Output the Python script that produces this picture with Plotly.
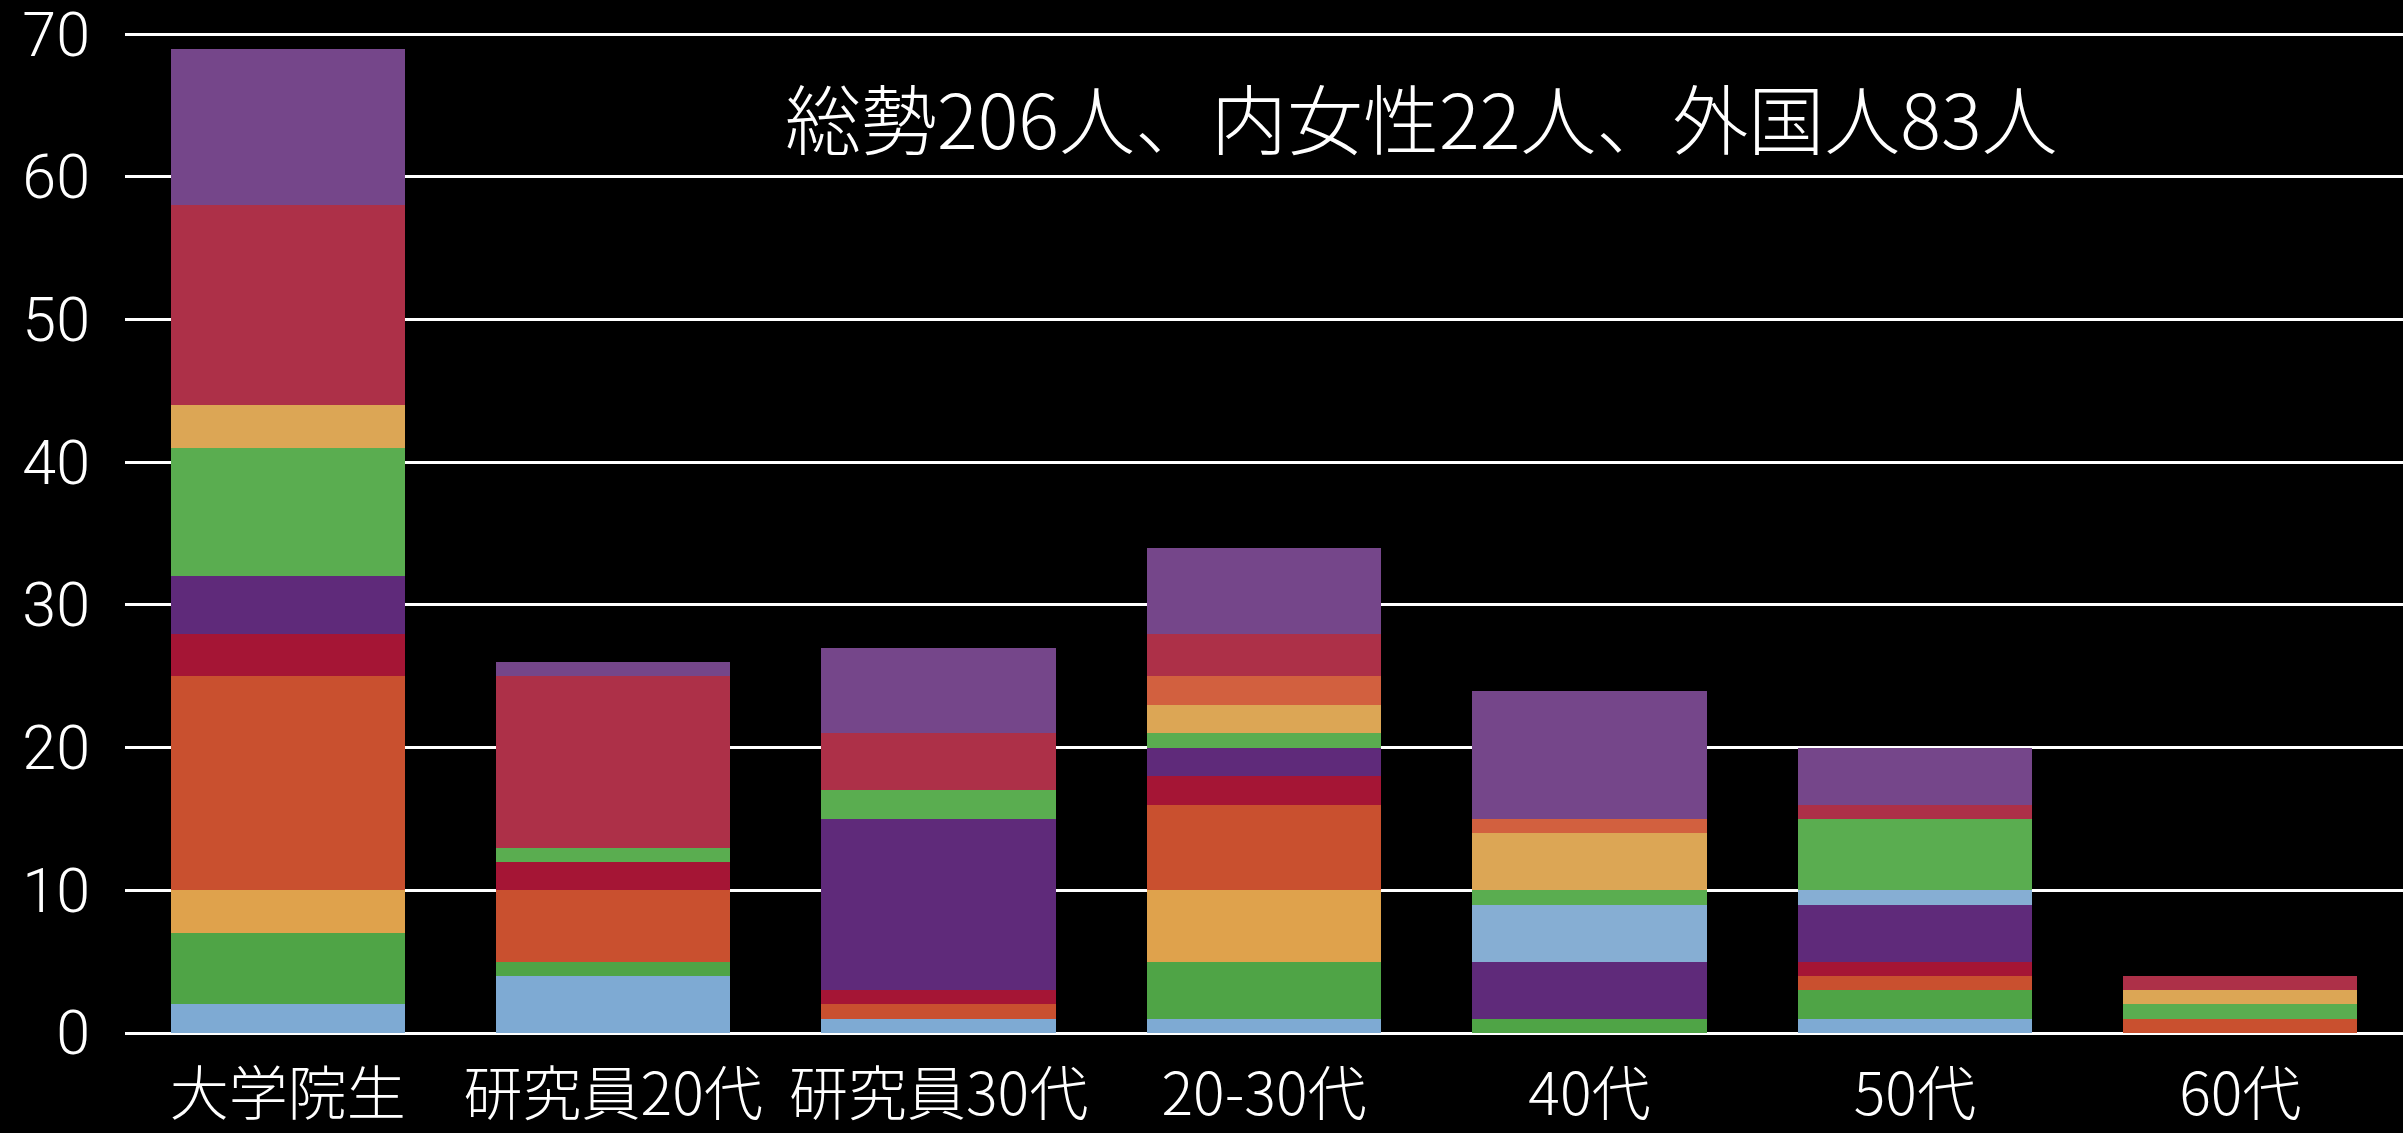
import plotly.graph_objects as go

# categories on the x axis
categories = ["大学院生", "研究員20代", "研究員30代", "20-30代", "40代", "50代", "60代"]

# stacked layers, bottom to top (values per category)
s1 = [2, 4, 1, 1, 0, 1, 0]
s2 = [5, 1, 0, 4, 1, 2, 0]
s3 = [3, 0, 0, 5, 0, 0, 0]
s4 = [15, 5, 1, 6, 0, 1, 1]
s5 = [3, 2, 1, 2, 0, 1, 0]
s6 = [4, 0, 12, 2, 4, 4, 0]
s7 = [0, 0, 0, 0, 4, 1, 0]
s8 = [9, 1, 2, 1, 1, 5, 1]
s9 = [3, 0, 0, 2, 4, 0, 1]
s10 = [0, 0, 0, 2, 1, 0, 0]
s11 = [14, 12, 4, 3, 0, 1, 1]
s12 = [11, 1, 6, 6, 9, 4, 0]

y_ticks = [0, 10, 20, 30, 40, 50, 60, 70]
note = "総勢206人、内女性22人、外国人83人"

series = [s1, s2, s3, s4, s5, s6, s7, s8, s9, s10, s11, s12]
colors = ["#7eaad3", "#4fa446", "#dfa24c", "#c9502f", "#a51535", "#5f2a7a",
          "#86aed3", "#5aad50", "#dca655", "#d2603f", "#ad3048", "#75468a"]

fig = go.Figure()
for i, (vals, col) in enumerate(zip(series, colors)):
    fig.add_trace(go.Bar(
        x=categories,
        y=vals,
        name=f"s{i + 1}",
        marker_color=col,
        marker_line_width=0,
    ))

fig.add_annotation(
    text=note,
    xref="paper", yref="paper",
    x=0.569, y=0.914,
    xanchor="center", yanchor="middle",
    showarrow=False,
    font=dict(family="Noto Sans CJK JP", size=76, color="white", weight=300),
)

fig.update_layout(
    barmode="stack",
    bargap=0.28,
    showlegend=False,
    width=2403,
    height=1133,
    paper_bgcolor="black",
    plot_bgcolor="black",
    margin=dict(l=125, r=0, t=30, b=100),
    xaxis=dict(
        showgrid=False,
        showline=False,
        ticks="",
        ticklabelstandoff=22,
        tickfont=dict(family="Noto Sans CJK JP", size=59, color="white", weight=300),
    ),
    yaxis=dict(
        range=[0, 70.3],
        tickvals=y_ticks,
        showgrid=True,
        gridcolor="white",
        gridwidth=2.5,
        zeroline=True,
        zerolinecolor="white",
        zerolinewidth=2.5,
        ticks="",
        ticklabelstandoff=34,
        ticklabeloverflow="allow",
        tickfont=dict(family="Roboto", size=61, color="white", weight=300),
    ),
)

fig.write_html("out.html", config={"displayModeBar": False},
               post_script="document.body.style.margin='0';")
